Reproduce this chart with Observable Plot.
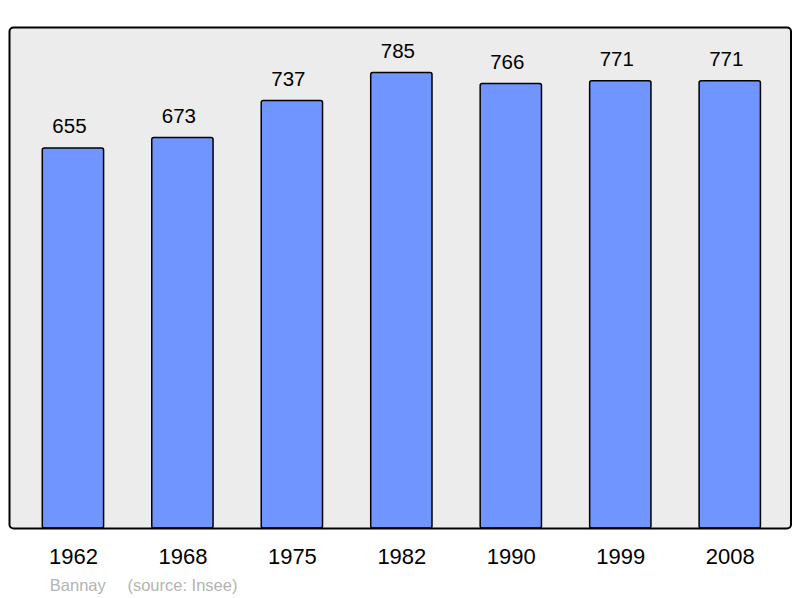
<!DOCTYPE html>
<html>
<head>
<meta charset="utf-8">
<script src="https://cdn.jsdelivr.net/npm/d3@7"></script>
<script src="https://cdn.jsdelivr.net/npm/@observablehq/plot@0.6"></script>
<style>
  html, body { margin: 0; padding: 0; background: #ffffff; }
  svg { font-family: "Liberation Sans", Arial, sans-serif; }
</style>
</head>
<body>
<div id="chart"></div>
<script>
const years = ["1962", "1968", "1975", "1982", "1990", "1999", "2008"];
const population = [655, 673, 737, 785, 766, 771, 771];
const commune = "Bannay";
const source = "(source: Insee)";

const data = years.map((y, i) => ({year: y, pop: population[i]}));

const chart = Plot.plot({
  width: 800,
  height: 598,
  marginLeft: 9,
  marginRight: 9.5,
  marginTop: 27,
  marginBottom: 70,
  style: {background: "#ffffff", fontFamily: "Liberation Sans, Arial, sans-serif"},
  x: {domain: years, round: false, paddingInner: 0.44, paddingOuter: 0.22, insetLeft: 9.2, insetRight: 6, label: null},
  y: {domain: [0, d3.max(population) * 1.1], axis: null},
  marks: [
    Plot.frame({fill: "#ececec", stroke: "none", rx: 4}),
    Plot.barY(data, {x: "year", y: "pop", fill: "#7095ff", stroke: "#000000", strokeWidth: 1.5, rx: 2}),
    Plot.text(data, {x: "year", y: "pop", text: d => String(d.pop), lineAnchor: "bottom", dx: -4, dy: -15, fontSize: 20.5, fill: "#000000"}),
    Plot.frame({fill: "none", stroke: "#000000", strokeWidth: 2, rx: 4}),
    Plot.axisX({tickSize: 0, tickPadding: 20, fontSize: 22, color: "#000000", label: null}),
    Plot.text([commune + "\u00a0\u00a0\u00a0\u00a0\u2009" + source], {frameAnchor: "bottom-left", textAnchor: "start", lineAnchor: "bottom", dx: 40.3, dy: 62, fontSize: 16.5, fill: "#b3b3b3"})
  ]
});
document.getElementById("chart").appendChild(chart);
</script>
</body>
</html>
